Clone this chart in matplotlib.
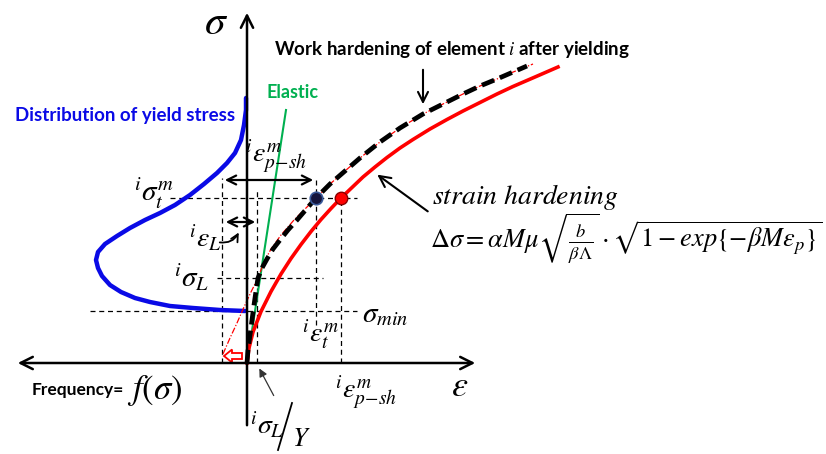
import matplotlib.pyplot as plt
import matplotlib.patches as mpatches
import numpy as np

plt.rcParams['mathtext.fontset'] = 'stix'
plt.rcParams['font.family'] = ['Lato', 'DejaVu Sans']

# strain hardening curve (plastic strain vs stress, schematic units)
red_eps = np.array([0, 2, 6, 14, 24, 34, 44, 54, 64, 74, 84, 94, 105, 116, 128, 140, 153, 166,
                    183, 200, 216, 233, 250, 266, 288, 311])
red_sig = np.array([0, 15, 31, 51.5, 71.5, 89, 104.5, 118.5, 131.5, 143.5, 154.5, 165, 175.5, 186,
                    196, 205.5, 215, 223.5, 234, 243.5, 252, 260.5, 269, 276.5, 286, 296])

# work hardening of element i after yielding
work_eps = np.array([0, 1, 3, 5, 7, 9, 11, 15, 20, 26, 33, 41, 50, 59, 69, 83, 98, 113, 133,
                     153, 176, 198, 216, 233, 250, 265, 280])
work_sig = np.array([0, 13, 28, 43, 58, 72, 85, 95, 104, 114, 123, 133, 143, 153.5, 165, 179, 192,
                     205, 221, 235, 249, 260, 269, 277, 284, 290.5, 297])

# strain hardening curve shifted back to the yield point
shift_eps = np.array([-24, -17, -10, -3, 4, 11, 17, 24, 34, 47, 69, 83, 98, 113, 133, 153, 176,
                      198, 216, 233, 250, 265, 286])
shift_sig = np.array([9, 25, 40, 56, 71, 85, 101, 114, 128, 143, 165, 179, 192, 205, 221, 235, 249,
                      260, 269, 277, 284, 290.5, 299])

# distribution of yield stress, frequency drawn to the left
dist_freq = np.array([1, 1, 3, 6, 12, 20, 30, 43, 57, 72, 87, 102, 117, 130, 142, 149, 151, 149,
                      145, 137, 126, 112, 97, 77, 54, 27, 2])
dist_sig = np.array([265, 253, 238, 223, 210, 200, 190, 179, 168, 158, 150, 143, 135, 127, 119, 111,
                     103, 95, 87, 78, 71, 65, 61, 57, 55, 53, 52])

# elastic line
elastic_eps = [0, 39]
elastic_sig = [0, 253]

# characteristic levels
sig_t = 165
sig_L = 85
sig_min = 52
eps_L = 10
eps_t = 69
eps_psh = 94
eps_back = -25

fig = plt.figure(figsize=(8.26, 4.54), dpi=100)
ax = fig.add_axes([0, 0, 1, 1])
ax.set_xlim(-247, 579)
ax.set_ylim(-91, 363)
ax.axis('off')

# axes with arrows
ax.annotate('', xy=(-232, 0), xytext=(231, 0),
            arrowprops=dict(arrowstyle='<->', lw=1.8, color='black', mutation_scale=22))
ax.annotate('', xy=(0, 353), xytext=(0, -65),
            arrowprops=dict(arrowstyle='->', lw=1.8, color='black', mutation_scale=22))

# helper dashed lines
dkw = dict(color='black', lw=0.9, dashes=(4, 3))
ax.plot([-77, 110], [sig_t, sig_t], **dkw)
ax.plot([-30, 76], [sig_L, sig_L], **dkw)
ax.plot([-157, 110], [sig_min, sig_min], **dkw)
ax.plot([eps_back, eps_back], [0, 185], **dkw)
ax.plot([eps_L, eps_L], [0, 173], **dkw)
ax.plot([eps_t, eps_t], [38, 185], **dkw)
ax.plot([eps_psh, eps_psh], [0, sig_t], **dkw)

# curves
ax.plot(-dist_freq, dist_sig, color='#0a0ae6', lw=3.2, solid_capstyle='round',
        solid_joinstyle='round')
ax.plot(elastic_eps, elastic_sig, color='#00b050', lw=1.5)
ax.plot(red_eps, red_sig, color='#ff0000', lw=2.6, solid_joinstyle='round')
ax.plot(shift_eps, shift_sig, color='#ff0000', lw=0.9, dashes=(5, 1.5, 1, 1.5))
ax.plot(work_eps, work_sig, color='black', lw=3.4, dashes=(2.8, 1.3))

# yield points on the two curves
ax.plot(eps_t, sig_t, 'o', ms=9, mfc='#14143c', mec='#3a5a9a', mew=1.2)
ax.plot(eps_psh, sig_t, 'o', ms=9, mfc='#ff0000', mec='#8a0000', mew=1.0)

# strain range arrows
ax.annotate('', xy=(eps_back, 183), xytext=(eps_t, 183),
            arrowprops=dict(arrowstyle='<->', lw=1.6, color='black', mutation_scale=16))
ax.annotate('', xy=(eps_back + 1, 141), xytext=(eps_L + 1, 141),
            arrowprops=dict(arrowstyle='<->', lw=1.6, color='black', mutation_scale=16))
ax.annotate('', xy=(-7, 133), xytext=(-30, 121),
            arrowprops=dict(arrowstyle='->', lw=1.3, color='black', mutation_scale=13,
                            connectionstyle='arc3,rad=0.4'))

# hollow red arrow pointing back to the shifted origin
ax.add_patch(mpatches.FancyArrow(-5, 7, -18, 0, width=6, head_width=13, head_length=8,
                                 length_includes_head=True, fc='white', ec='#ff0000', lw=1.3))

# pointer arrows
ax.annotate('', xy=(176, 256), xytext=(176, 296),
            arrowprops=dict(arrowstyle='->', lw=1.5, color='black', mutation_scale=18))
ax.annotate('', xy=(128, 190), xytext=(183, 150),
            arrowprops=dict(arrowstyle='->', lw=1.5, color='black', mutation_scale=20))
ax.annotate('', xy=(11, -3), xytext=(28, -35),
            arrowprops=dict(arrowstyle='-|>', lw=0.9, color='#333333', mutation_scale=12))

# text labels
ax.text(-31, 341, r'$\sigma$', fontsize=30, ha='center', va='center')
ax.text(213, -23, r'$\varepsilon$', fontsize=26, ha='center', va='center')
ax.text(-215, -27, 'Frequency=', fontsize=12.5, fontweight='bold', ha='left', va='center')
ax.text(-120, -27, r'$f(\sigma)$', fontsize=25, ha='left', va='center')
ax.text(-232, 248, 'Distribution of yield stress', fontsize=13.5, fontweight='bold',
        color='#0a0ae6', ha='left', va='center')
ax.text(20, 271, 'Elastic', fontsize=13, fontweight='bold', color='#00b050', ha='left', va='center')
ax.text(205, 314, r'Work hardening of element $\mathit{i}$ after yielding', fontsize=13.5,
        fontweight='bold', ha='center', va='center')

ax.text(29, 206, r'${}^{i}\varepsilon_{p\!-\!sh}^{m}$', fontsize=20, ha='center', va='center')
ax.text(-93, 170, r'${}^{i}\sigma_{t}^{m}$', fontsize=21, ha='center', va='center')
ax.text(-42, 125, r'${}^{i}\varepsilon_{L}$', fontsize=20, ha='center', va='center')
ax.text(-55, 86, r'${}^{i}\sigma_{L}$', fontsize=21, ha='center', va='center')
ax.text(115, 48, r'$\sigma_{min}$', fontsize=21, ha='left', va='center')
ax.text(73, 28, r'${}^{i}\varepsilon_{t}^{m}$', fontsize=20, ha='center', va='center')
ax.text(119, -30, r'${}^{i}\varepsilon_{p\!-\!sh}^{m}$', fontsize=20, ha='center', va='center')
ax.text(20, -62, r'${}^{i}\sigma_{L}$', fontsize=20, ha='center', va='center')
ax.plot([31, 45], [-87, -40], color='black', lw=1.3)
ax.text(54, -75, r'$Y$', fontsize=19, ha='center', va='center')

ax.text(185, 166, r'$strain\ hardening$', fontsize=20, ha='left', va='center')
ax.text(183, 125,
        r'$\Delta\sigma = \alpha M\mu\sqrt{\frac{b}{\beta\Lambda}}\cdot\sqrt{1-exp\{-\beta M\varepsilon_p\}}$',
        fontsize=19, ha='left', va='center')

fig.savefig('out.png', dpi=100)
